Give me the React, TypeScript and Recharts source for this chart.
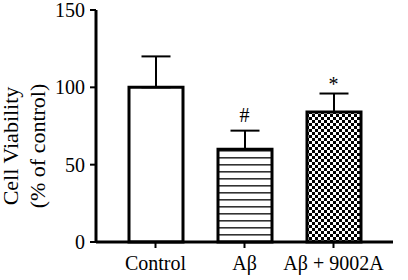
import { BarChart, Bar, XAxis, YAxis, ErrorBar, ReferenceDot, Cell, Label } from "recharts";

const groups = ["Control", "Aβ", "Aβ + 9002A"];
const viability = [100, 60, 84];
const sem = [20, 12, 12];
const marks = ["", "#", "*"];
const fills = ["#ffffff", "url(#stripes)", "url(#checks)"];
const yTicks = [0, 50, 100, 150];

const data = groups.map((name, i) => ({
  name,
  value: viability[i],
  err: [0, sem[i]],
}));

const SERIF = "'Liberation Serif', 'Times New Roman', serif";

// something in the page keeps resetting svg text to sans, so pin it hard
const serifRef = (el: SVGTextElement | null) => {
  if (el) {
    el.style.setProperty("font-family", SERIF, "important");
    el.style.setProperty("fill", "#000", "important");
  }
};

function YTitle() {
  return (
    <g>
      <text ref={serifRef} transform="translate(18,146) rotate(-90)" textAnchor="middle" fontSize={22}>
        Cell Viability
      </text>
      <text ref={serifRef} transform="translate(45,146) rotate(-90)" textAnchor="middle" fontSize={22}>
        (% of control)
      </text>
    </g>
  );
}

function XTick({ x, y, payload }: any) {
  return (
    <text ref={serifRef} x={x} y={y} dy={16} textAnchor="middle" fontSize={20} fontFamily={SERIF}>
      {payload.value}
    </text>
  );
}

function YTick({ x, y, payload }: any) {
  return (
    <text ref={serifRef} x={x} y={y} dy={7} textAnchor="end" fontSize={20} fontFamily={SERIF}>
      {payload.value}
    </text>
  );
}

function markLabel(mark: string) {
  return ({ viewBox }: any) => {
    const cx = viewBox.x + viewBox.width / 2;
    const gap = mark === "*" ? 3 : 9;
    return (
      <text ref={serifRef} x={cx} y={viewBox.y - gap} textAnchor="middle" fontSize={20} fontFamily={SERIF}>
        {mark}
      </text>
    );
  };
}

export default function App() {
  return (
    <div style={{ position: "absolute", left: 0, top: 0, width: 408, height: 280, background: "#fff" }}>
      <svg width={0} height={0} style={{ position: "absolute" }}>
        <defs>
          <pattern id="stripes" patternUnits="userSpaceOnUse" width={7} height={7}>
            <rect width={7} height={7} fill="#fff" />
            <rect y={3} width={7} height={1.6} fill="#333" />
          </pattern>
          <pattern id="checks" patternUnits="userSpaceOnUse" width={6} height={6}>
            <rect width={6} height={6} fill="#fff" />
            <rect width={3} height={3} fill="#000" />
            <rect x={3} y={3} width={3} height={3} fill="#000" />
          </pattern>
        </defs>
      </svg>
      <BarChart
        width={408}
        height={280}
        data={data}
        margin={{ top: 10, right: 15, bottom: 0, left: 0 }}
      >
        <XAxis
          dataKey="name"
          height={38}
          padding={{ left: 15, right: 15 }}
          axisLine={{ stroke: "#000", strokeWidth: 3 }}
          tickLine={{ stroke: "#000", strokeWidth: 2 }}
          tickSize={6}
          tickMargin={6}
          tick={<XTick />}
        />
        <YAxis
          width={96}
          domain={[0, 150]}
          ticks={yTicks}
          axisLine={{ stroke: "#000", strokeWidth: 3 }}
          tickLine={{ stroke: "#000", strokeWidth: 2 }}
          tickSize={6}
          tickMargin={5}
          tick={<YTick />}
        >
          <Label content={() => <YTitle />} />
        </YAxis>
        <Bar dataKey="value" barSize={54} stroke="#000" strokeWidth={3} isAnimationActive={false}>
          {data.map((d, i) => (
            <Cell key={d.name} fill={fills[i]} />
          ))}
          <ErrorBar dataKey="err" direction="y" width={14.5} stroke="#000" strokeWidth={2} isAnimationActive={false} />
        </Bar>
        {data.map((d, i) =>
          marks[i] ? (
            <ReferenceDot
              key={d.name}
              x={d.name}
              y={viability[i] + sem[i]}
              r={0}
              fill="none"
              stroke="none"
              label={markLabel(marks[i])}
            />
          ) : null
        )}
      </BarChart>
    </div>
  );
}
